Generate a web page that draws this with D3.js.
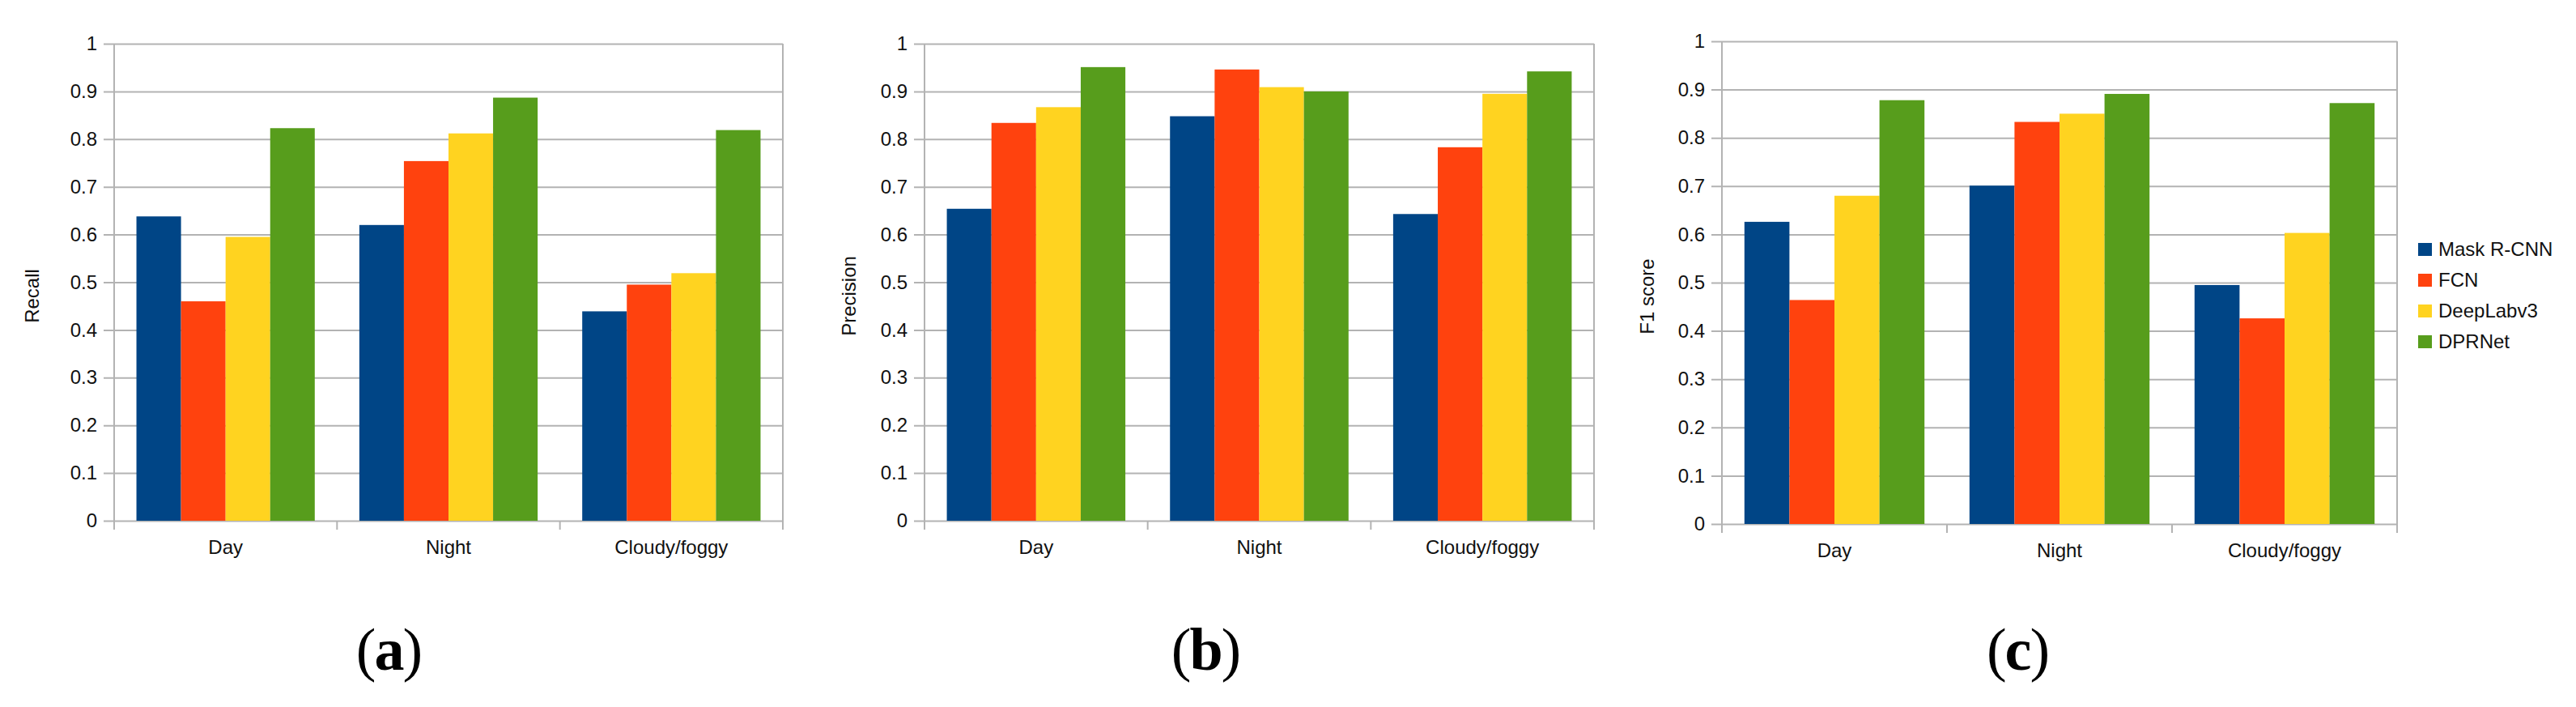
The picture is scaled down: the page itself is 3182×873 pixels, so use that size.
<!DOCTYPE html>
<html>
<head>
<meta charset="utf-8">
<script src="https://cdnjs.cloudflare.com/ajax/libs/d3/7.8.5/d3.min.js"></script>
<style>
  html,body{margin:0;padding:0;background:#fff;}
  svg{display:block;}
</style>
</head>
<body>
<div id="chart"></div>
<script>
// data
const categories = ["Day", "Night", "Cloudy/foggy"];
const methods = ["Mask R-CNN", "FCN", "DeepLabv3", "DPRNet"];
const colors = ["#004586", "#ff420e", "#ffd320", "#579d1c"];
const yTicks = [0, 0.1, 0.2, 0.3, 0.4, 0.5, 0.6, 0.7, 0.8, 0.9, 1];

// one row per category, one value per method
const recall = [
  [0.638, 0.460, 0.595, 0.823],
  [0.620, 0.754, 0.812, 0.887],
  [0.439, 0.495, 0.519, 0.819]
];
const precision = [
  [0.654, 0.834, 0.867, 0.951],
  [0.848, 0.946, 0.909, 0.900],
  [0.643, 0.783, 0.895, 0.942]
];
const f1 = [
  [0.626, 0.464, 0.680, 0.878],
  [0.701, 0.833, 0.850, 0.891],
  [0.495, 0.426, 0.603, 0.872]
];

const W = 3182, H = 873;
const font = '"Liberation Sans",Arial,sans-serif';

// panel frames
const panels = [
  {title: "Recall",    values: recall,    left: 141,  right: 967,  top: 54, bottom: 643, titleX: 48,   tag: "a", tagX: 481},
  {title: "Precision", values: precision, left: 1142, right: 1969, top: 54, bottom: 643, titleX: 1057, tag: "b", tagX: 1490},
  {title: "F1 score",  values: f1,        left: 2127, right: 2961, top: 51, bottom: 647, titleX: 2043, tag: "c", tagX: 2493}
];

const svg = d3.select("#chart").append("svg")
  .attr("width", W).attr("height", H);
svg.append("rect").attr("width", W).attr("height", H).attr("fill", "#fff");

function drawPanel(p){
  let w = p.right - p.left;
  let g = svg.append("g").attr("transform", "translate(" + p.left + ",0)");

  let y = d3.scaleLinear().domain([0, 1]).range([p.bottom, p.top]);
  let x0 = d3.scaleBand().domain(categories).range([0, w]).padding(0);
  let x1 = d3.scaleBand().domain(methods).range([0, x0.bandwidth()])
    .paddingInner(0).paddingOuter(0.5);

  // gridlines + tick labels
  let yAxis = g.append("g").attr("transform", "translate(-13,0)")
    .call(d3.axisLeft(y).tickValues(yTicks).tickSize(-(w + 13)).tickPadding(8)
      .tickFormat(d => String(+d.toFixed(1))));
  yAxis.select(".domain").remove();
  yAxis.selectAll(".tick line").attr("stroke", "#b3b3b3").attr("stroke-width", 2);
  yAxis.selectAll(".tick text").attr("fill", "#111").attr("font-size", 24).attr("font-family", font);

  // bars
  let groups = g.selectAll(".cat").data(categories).enter().append("g")
    .attr("class", "cat")
    .attr("transform", d => "translate(" + x0(d) + ",0)");
  groups.selectAll("rect")
    .data((d, i) => p.values[i].map((v, j) => ({m: methods[j], v: v, c: colors[j]})))
    .enter().append("rect")
    .attr("x", d => x1(d.m))
    .attr("width", x1.bandwidth())
    .attr("y", d => y(d.v))
    .attr("height", d => y(0) - y(d.v))
    .attr("fill", d => d.c);

  // frame: left axis, right border and category separators
  let seps = [0].concat(categories.map(c => x0(c) + x0.bandwidth()));
  g.selectAll(".sep").data(seps).enter().append("line")
    .attr("x1", d => d).attr("x2", d => d)
    .attr("y1", (d, i) => (i == 0 || i == seps.length - 1) ? p.top : p.bottom)
    .attr("y2", p.bottom + 11)
    .attr("stroke", "#b3b3b3").attr("stroke-width", 2);

  // category labels
  let xAxis = g.append("g").attr("transform", "translate(0," + p.bottom + ")")
    .call(d3.axisBottom(x0).tickSize(0).tickPadding(0));
  xAxis.select(".domain").remove();
  xAxis.selectAll(".tick text")
    .attr("dy", null).attr("y", 41)
    .attr("fill", "#111").attr("font-size", 24).attr("font-family", font);

  // axis title
  svg.append("text")
    .attr("transform", "translate(" + p.titleX + "," + ((p.top + p.bottom) / 2 + 17) + ") rotate(-90)")
    .attr("text-anchor", "middle")
    .attr("font-family", font).attr("font-size", 24).attr("fill", "#111")
    .text(p.title);

  // sub-figure tag: thin parens, bold letter
  let tag = svg.append("text")
    .attr("x", p.tagX).attr("y", 827)
    .attr("text-anchor", "middle")
    .attr("font-family", '"Liberation Serif","DejaVu Serif",serif')
    .attr("font-size", 74)
    .attr("fill", "#000");
  tag.append("tspan").text("(");
  tag.append("tspan").attr("font-weight", "bold").attr("dx", -2).text(p.tag);
  tag.append("tspan").attr("dx", -2).text(")");
}

panels.forEach(drawPanel);

// legend
let legend = svg.append("g").attr("transform", "translate(2987,300)");
let items = legend.selectAll(".item").data(methods).enter().append("g")
  .attr("class", "item")
  .attr("transform", (d, i) => "translate(0," + (i * 38) + ")");
items.append("rect").attr("width", 17).attr("height", 16)
  .attr("fill", (d, i) => colors[i]);
items.append("text").attr("x", 25).attr("y", 16)
  .attr("font-family", font).attr("font-size", 24).attr("fill", "#111")
  .text(d => d);
</script>
</body>
</html>
